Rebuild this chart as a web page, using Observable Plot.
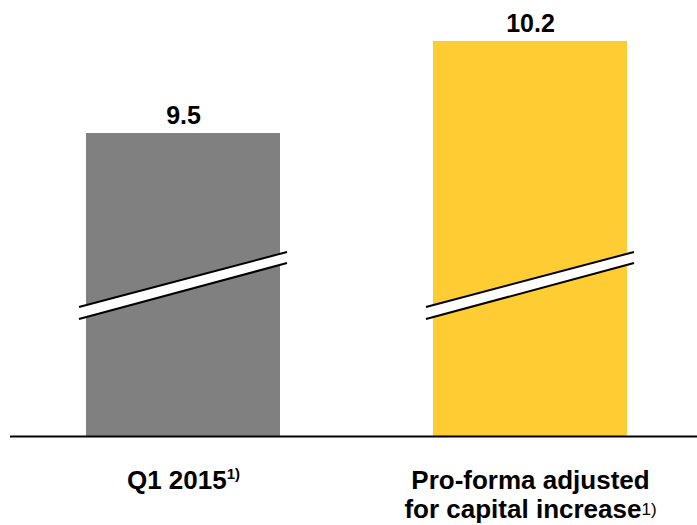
<!DOCTYPE html>
<html>
<head>
<meta charset="utf-8">
<script src="https://cdn.jsdelivr.net/npm/d3@7"></script>
<script src="https://cdn.jsdelivr.net/npm/@observablehq/plot@0.6"></script>
<style>
  html, body { margin: 0; padding: 0; background: #fff; }
  #chart svg { display: block; }
</style>
</head>
<body>
<div id="chart"></div>
<script>
// ---- data ----
const categories = ["Q1 2015", "Pro-forma adjusted\nfor capital increase"];
const values = [9.5, 10.2];
const valueLabels = ["9.5", "10.2"];
const footnotes = ["1)", "1)"];
const barColors = ["#808080", "#FFCC33"];
// broken axis: value at the baseline, and the break band (lower, upper) at left/right ends
const axisDomain = [7.195, 10.512];
const breakLeft = [8.085, 8.177];
const breakRight = [8.511, 8.595];

const data = categories.map((c, i) => ({cat: c, value: values[i], label: valueLabels[i], color: barColors[i]}));

const font = "Arial, 'Liberation Sans', Helvetica, sans-serif";
const footStyle = [
  {size: 15, weight: "bold", dy: -10},
  {size: 17, weight: "normal", dy: -3}
];

function breakMark(index, scales) {
  const x = scales.x, y = scales.y;
  const bw = typeof x.bandwidth === "function" ? x.bandwidth() : x.bandwidth;
  const g = d3.create("svg:g");
  categories.forEach(c => {
    const x0 = x(c) - 7, x1 = x(c) + bw + 7;
    const pts = [[x0, y(breakLeft[1])], [x1, y(breakRight[1])], [x1, y(breakRight[0])], [x0, y(breakLeft[0])]];
    g.append("polygon").attr("points", pts.map(p => p.join(",")).join(" ")).attr("fill", "white");
    g.append("line").attr("x1", x0).attr("y1", y(breakLeft[1])).attr("x2", x1).attr("y2", y(breakRight[1]))
      .attr("stroke", "black").attr("stroke-width", 2);
    g.append("line").attr("x1", x0).attr("y1", y(breakLeft[0])).attr("x2", x1).attr("y2", y(breakRight[0]))
      .attr("stroke", "black").attr("stroke-width", 2);
  });
  return g.node();
}

const chart = Plot.plot({
  width: 697,
  height: 525,
  marginLeft: 10,
  marginRight: 0,
  marginTop: 0,
  marginBottom: 89,
  style: {fontFamily: font, background: "white", color: "black"},
  x: {domain: categories, paddingInner: 0.441, paddingOuter: 0.2104, align: 0.52, axis: null},
  y: {domain: axisDomain, clamp: true, axis: null},
  color: {type: "identity"},
  marks: [
    Plot.barY(data, {x: "cat", y: "value", fill: "color"}),
    breakMark,
    Plot.ruleY([axisDomain[0]], {stroke: "black", strokeWidth: 2}),
    Plot.text(data, {x: "cat", y: "value", text: "label", lineAnchor: "bottom", dy: -10,
      fontSize: 25, fontWeight: "bold", fill: "black"}),
    Plot.text(data, {x: "cat", frameAnchor: "bottom", text: "cat", lineAnchor: "top", dy: 33,
      fontSize: 26, fontWeight: "bold", lineHeight: 1.08, fill: "black"})
  ]
});

document.getElementById("chart").appendChild(chart);

// add footnote superscripts to the category labels
const textGroups = chart.querySelectorAll('g[aria-label="text"]');
const catTexts = textGroups[textGroups.length - 1].querySelectorAll("text");
catTexts.forEach((t, i) => {
  const spans = t.querySelectorAll("tspan");
  const target = spans.length ? spans[spans.length - 1] : t;
  const s = footStyle[i];
  d3.select(target).append("tspan")
    .attr("dy", s.dy)
    .attr("font-size", s.size)
    .attr("font-weight", s.weight)
    .text(footnotes[i]);
});
</script>
</body>
</html>
